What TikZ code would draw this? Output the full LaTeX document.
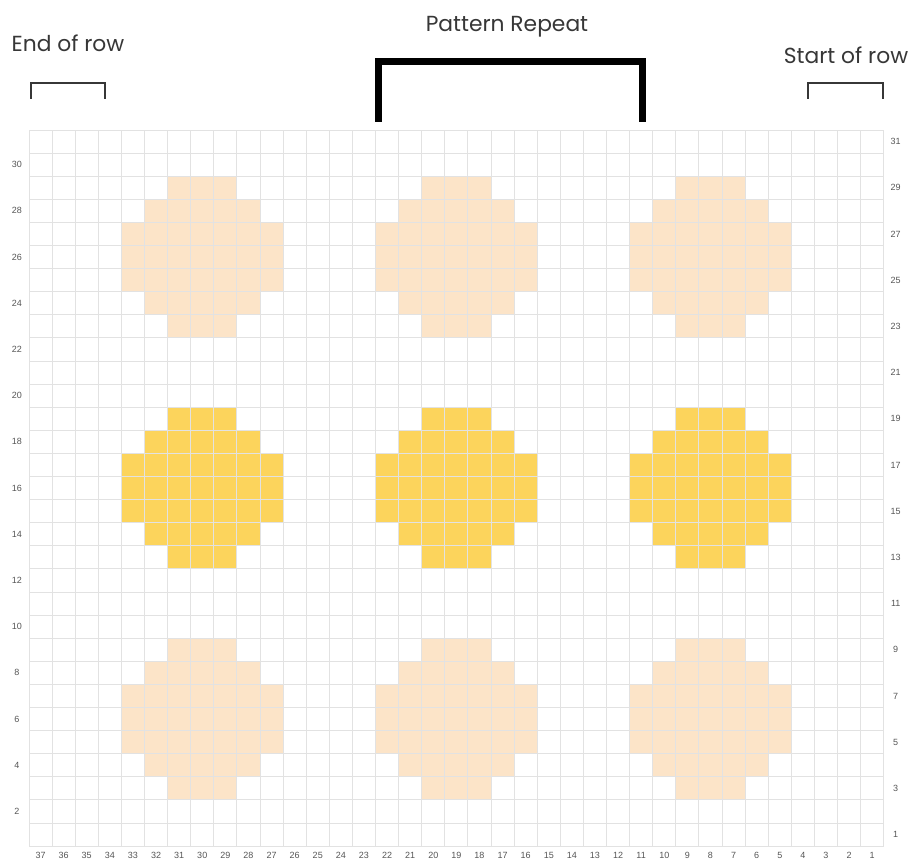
\documentclass[tikz,border=0pt]{standalone}
\usepackage{fontspec}
\setmainfont{Poppins}
\newfontfamily\numfont{Liberation Sans}
\usepackage{xcolor}
\usepackage{tikz}
\usetikzlibrary{positioning}
\definecolor{motifPeach}{RGB}{252,228,200}
\definecolor{motifSun}{RGB}{252,212,92}
\definecolor{gridGray}{RGB}{226,226,226}
\definecolor{labelGray}{RGB}{85,85,85}
\definecolor{titleDark}{RGB}{55,55,55}
\begin{document}
\begin{tikzpicture}[x=1pt, y=-1pt,
gridline/.style={draw=gridGray, line width=0.9pt},
numlabel/.style={font=\numfont\fontsize{9}{9}\selectfont, text=labelGray, inner sep=0pt},
heading/.style={font=\fontsize{21.8}{21.8}\selectfont, text=titleDark, anchor=base, inner sep=0pt},
smallbracket/.style={draw=titleDark, line width=1.8pt},
bigbracket/.style={draw=black, line width=7pt, miter limit=10}]
\useasboundingbox (0,0) rectangle (915,864);
\begin{scope}[shift={(883.7,846.1)}, x=-23.1pt, y=23.1pt]
\foreach \cx in {30,19,8}
  \foreach \cy/\col in {26/motifPeach,16/motifSun,6/motifPeach} {
    \fill[\col] (\cx-4,\cy-2) rectangle (\cx+3,\cy+1);
    \fill[\col] (\cx-3,\cy-3) rectangle (\cx+2,\cy+2);
    \fill[\col] (\cx-2,\cy-4) rectangle (\cx+1,\cy+3);
  }
\foreach \c in {0,...,37}
  \draw[gridline] (\c,0) -- (\c,31);
\foreach \r in {0,...,31}
  \draw[gridline] (0,\r) -- (37,\r);
\foreach \c in {1,...,37}
  \node[numlabel] (col\c) at (\c-0.5,-0.4) {\c};
\foreach \r in {2,4,...,30}
  \node[numlabel] (rowL\r) at (37.52,\r-0.5) {\r};
\foreach \r in {1,3,...,31}
  \node[numlabel] (rowR\r) at (-0.52,\r-0.5) {\r};
\end{scope}
\node[heading] (endrow) at (68,52) {End of row};
\node[heading] (repeat) at (507,32) {Pattern Repeat};
\node[heading] (startrow) at (846,64) {Start of row};
\draw[smallbracket] (31,99) -- (31,83) -- (105,83) -- (105,99);
\draw[smallbracket] (808,99) -- (808,83) -- (883,83) -- (883,99);
\draw[bigbracket] (378,122) -- (378,61.5) -- (642,61.5) -- (642,122);
\end{tikzpicture}
\end{document}
